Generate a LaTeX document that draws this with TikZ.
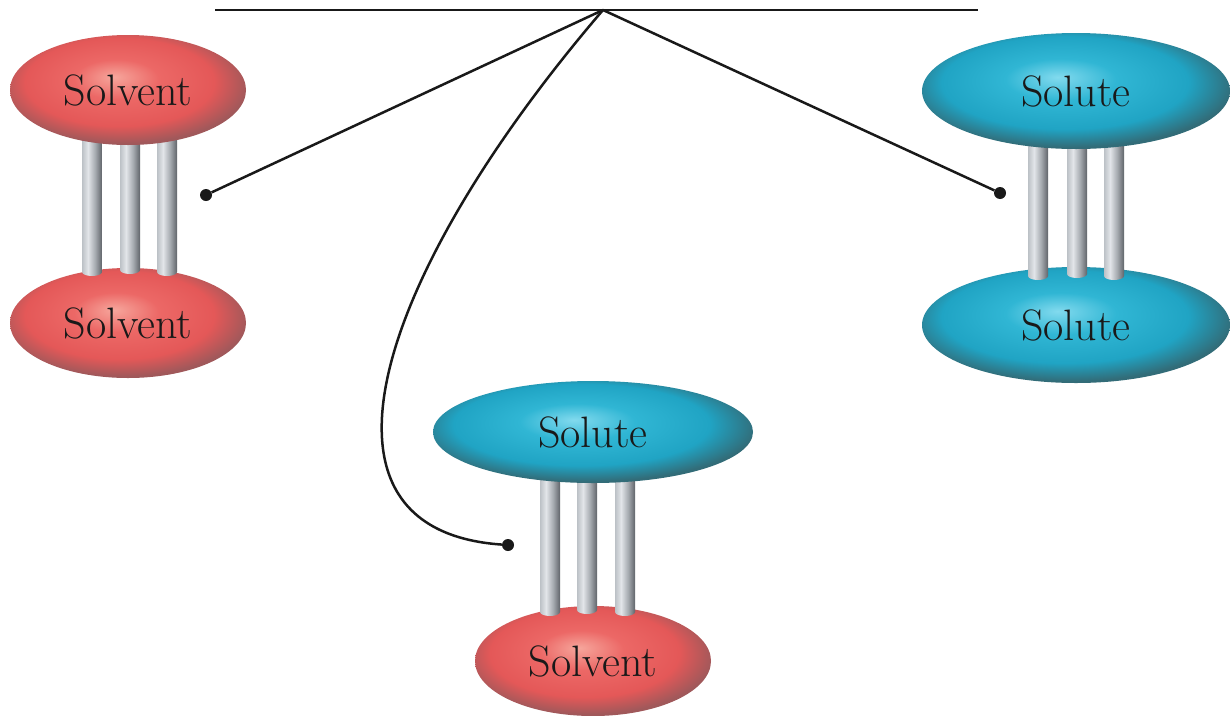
\documentclass[tikz,border=0pt]{standalone}
\usepackage{fontspec}
\usetikzlibrary{shapes.geometric}

\definecolor{rhl}{RGB}{246,166,156}
\definecolor{rmain}{RGB}{236,104,102}
\definecolor{rmain2}{RGB}{228,88,88}
\definecolor{rdark}{RGB}{160,88,90}
\definecolor{chl}{RGB}{130,218,238}
\definecolor{cmain}{RGB}{48,182,212}
\definecolor{cmain2}{RGB}{32,164,196}
\definecolor{cdark}{RGB}{50,108,120}
\definecolor{g1}{RGB}{188,193,198}
\definecolor{g2}{RGB}{226,229,233}
\definecolor{g3}{RGB}{165,170,175}
\definecolor{g4}{RGB}{96,100,106}
\definecolor{ink}{RGB}{25,25,25}

% radial shadings for the two kinds of molecule
\pgfdeclareradialshading{redball}{\pgfpoint{-3bp}{6bp}}{%
  color(0bp)=(rhl); color(9bp)=(rmain); color(20bp)=(rmain2);
  color(27bp)=(rdark); color(50bp)=(rdark)}
\pgfdeclareradialshading{cyanball}{\pgfpoint{-3bp}{6bp}}{%
  color(0bp)=(chl); color(9bp)=(cmain); color(20bp)=(cmain2);
  color(27bp)=(cdark); color(50bp)=(cdark)}
% metallic rod
\pgfdeclarehorizontalshading{rod}{100bp}{%
  color(0bp)=(g1); color(25bp)=(g1); color(40bp)=(g2);
  color(58bp)=(g3); color(75bp)=(g4); color(100bp)=(g4)}

\begin{document}
\begin{tikzpicture}[x=1pt,y=-1pt,
  mol/.style={ellipse, inner sep=0pt, text=ink,
    font=\fontsize{44}{52}\selectfont},
  solvent/.style={mol, shading=redball, minimum width=236, minimum height=110},
  solute/.style={mol, shading=cyanball},
  dot/.style={circle, fill=ink, inner sep=0pt, minimum size=12},
  link/.style={draw=ink, line width=2.5pt}]
\useasboundingbox (0,0) rectangle (1230,715);

% rods joining a pair: drawn between lower and upper molecule
\newcommand{\rodat}[3]{%
  \shade[shading=rod] (#1-10,#2) -- (#1-10,#3)
    arc[start angle=180, end angle=0, x radius=10, y radius=4]
    -- (#1+10,#2) -- cycle;}

% solvent--solvent pair
\node[solvent] (sv2) at (128,323) {Solvent};
\rodat{92}{140}{272}\rodat{130}{140}{270}\rodat{167}{140}{272}
\node[solvent] (sv1) at (128,90) {Solvent};

% solute--solute pair
\node[solute, minimum width=308, minimum height=116] (su2) at (1076,325) {Solute};
\rodat{1038}{145}{276}\rodat{1077}{145}{274}\rodat{1114}{145}{276}
\node[solute, minimum width=308, minimum height=116] (su1) at (1076,91) {Solute};

% solute--solvent pair
\node[solvent] (sv3) at (593,661) {Solvent};
\rodat{550}{478}{612}\rodat{587}{478}{610}\rodat{625}{478}{612}
\node[solute, minimum width=320, minimum height=102] (su3) at (593,432) {Solute};

% top bar and leaders
\coordinate (barL) at (215,10);
\coordinate (barR) at (978,10);
\coordinate (apex) at (603,10);
\draw[ink, line width=2.8pt] (barL) -- (barR);

\node[dot] (d1) at (206,195) {};
\node[dot] (d2) at (1000,193) {};
\node[dot] (d3) at (508,545) {};

\draw[link] (apex) -- (d1);
\draw[link] (apex) -- (d2);
\draw[link] (apex) .. controls (380,270) and (290,530) .. (d3);
\end{tikzpicture}
\end{document}
